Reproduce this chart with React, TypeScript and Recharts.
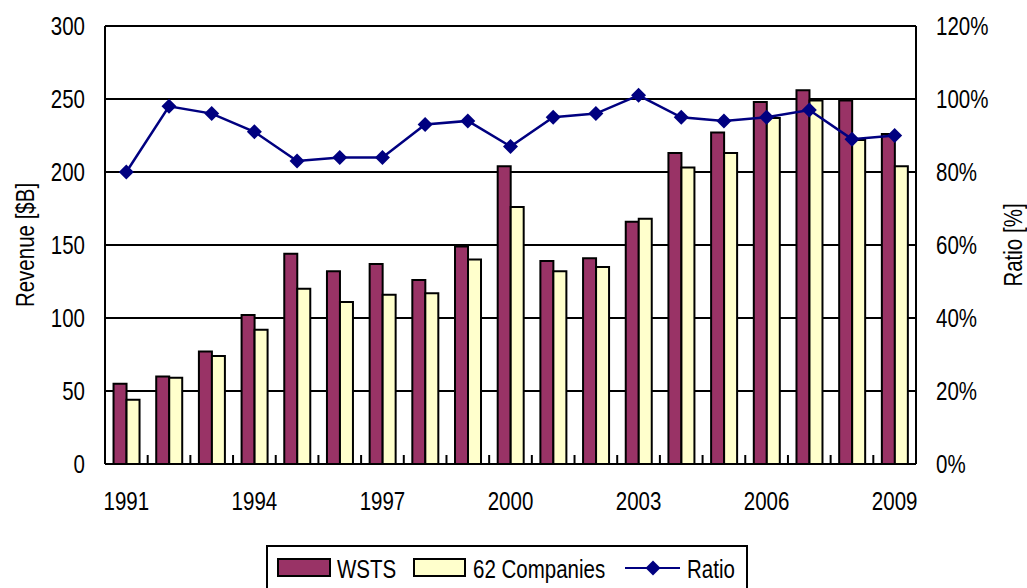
import { ComposedChart, Bar, Line, XAxis, YAxis, CartesianGrid, Legend } from 'recharts';

const years = [
  '1991', '1992', '1993', '1994', '1995', '1996', '1997', '1998', '1999', '2000',
  '2001', '2002', '2003', '2004', '2005', '2006', '2007', '2008', '2009',
];
const wsts = [55, 60, 77, 102, 144, 132, 137, 126, 149, 204, 139, 141, 166, 213, 227, 248, 256, 249, 226];
const companies62 = [44, 59, 74, 92, 120, 111, 116, 117, 140, 176, 132, 135, 168, 203, 213, 237, 249, 222, 204];
const ratio = [80, 98, 96, 91, 83, 84, 84, 93, 94, 87, 95, 96, 101, 95, 94, 95, 97, 89, 90];

const revenueTicks = [0, 50, 100, 150, 200, 250, 300];
const ratioTicks = [0, 20, 40, 60, 80, 100, 120];

const data = years.map((year, i) => ({
  year,
  wsts: wsts[i],
  companies: companies62[i],
  ratio: ratio[i],
}));

// no narrow font installed, so Liberation Sans gets squeezed horizontally
const FONT = '"Liberation Sans", Arial, sans-serif';
const SQUEEZE = 0.82;
const FS = 25;
const W = 1027;
const H = 588;
const LEFT_W = 105;
const RIGHT_W = 111;
const BAND = (W - LEFT_W - RIGHT_W) / years.length;

const WSTS_COLOR = '#993366';
const CO_COLOR = '#FFFFCC';
const RATIO_COLOR = '#000080';

function NarrowText({ x, y, anchor, rotate, children, dy }: any) {
  const t = `translate(${x} ${y})${rotate ? ` rotate(${rotate})` : ''} scale(${SQUEEZE} 1)`;
  return (
    <text transform={t} textAnchor={anchor} dy={dy} fontSize={FS} fontFamily={FONT} fill="#000">
      {children}
    </text>
  );
}

function YearTick(props: any) {
  const { x, y, index, payload } = props;
  return (
    <g>
      <line x1={x + BAND / 2} x2={x + BAND / 2} y1={y} y2={y - 9} stroke="#000" strokeWidth={2} />
      {index % 3 === 0 && (
        <NarrowText x={x} y={y + 46} anchor="middle">
          {payload.value}
        </NarrowText>
      )}
    </g>
  );
}

function ValueTick(props: any) {
  const { x, y, payload, textAnchor, suffix } = props;
  return (
    <NarrowText x={x} y={y} anchor={textAnchor} dy="0.36em">
      {`${payload.value}${suffix || ''}`}
    </NarrowText>
  );
}

function Diamond(props: any) {
  const { cx, cy } = props;
  if (cx == null || cy == null) return null;
  const r = 7.5;
  return (
    <polygon
      points={`${cx},${cy - r} ${cx + r},${cy} ${cx},${cy + r} ${cx - r},${cy}`}
      fill={RATIO_COLOR}
    />
  );
}

function AxisTitle(props: any) {
  const { viewBox, value, dx } = props;
  const x = viewBox.x + dx;
  const y = viewBox.y + viewBox.height / 2;
  return (
    <NarrowText x={x} y={y} rotate={-90} anchor="middle" dy="0.36em">
      {value}
    </NarrowText>
  );
}

function LegendBox() {
  return (
    <svg width={482} height={60} style={{ display: 'block' }}>
      <rect x={1} y={1} width={480} height={70} fill="#fff" stroke="#000" strokeWidth={2} />
      <rect x={12} y={14} width={52} height={17} fill={WSTS_COLOR} stroke="#000" strokeWidth={2} />
      <NarrowText x={71} y={33} anchor="start">WSTS</NarrowText>
      <rect x={148} y={14} width={51} height={17} fill={CO_COLOR} stroke="#000" strokeWidth={2} />
      <NarrowText x={207} y={33} anchor="start">62 Companies</NarrowText>
      <line x1={359} x2={414} y1={23} y2={23} stroke={RATIO_COLOR} strokeWidth={2} />
      <polygon points="387,15.5 394.5,23 387,30.5 379.5,23" fill={RATIO_COLOR} />
      <NarrowText x={421} y={33} anchor="start">Ratio</NarrowText>
    </svg>
  );
}

export default function App() {
  return (
    <div style={{ width: W, height: H, overflow: 'hidden', position: 'relative' }}>
      <style>{'body{margin:0;overflow:hidden}'}</style>
      <ComposedChart
        width={W}
        height={H}
        data={data}
        margin={{ top: 26, right: 0, bottom: 0, left: 0 }}
        barCategoryGap="20%"
        barGap={0}
      >
        <CartesianGrid yAxisId="left" vertical={false} stroke="#000" strokeWidth={2} />
        <XAxis
          dataKey="year"
          interval={0}
          height={124}
          tickLine={false}
          tickSize={0}
          tickMargin={0}
          axisLine={{ stroke: '#000', strokeWidth: 2 }}
          tick={<YearTick />}
        />
        <YAxis
          yAxisId="left"
          width={LEFT_W}
          domain={[0, 300]}
          ticks={revenueTicks}
          interval={0}
          tickLine={false}
          tickSize={0}
          tickMargin={20}
          axisLine={{ stroke: '#000', strokeWidth: 2 }}
          tick={<ValueTick />}
          label={<AxisTitle value="Revenue [$B]" dx={25} />}
        />
        <YAxis
          yAxisId="right"
          orientation="right"
          width={RIGHT_W}
          domain={[0, 120]}
          ticks={ratioTicks}
          interval={0}
          tickLine={false}
          tickSize={0}
          tickMargin={20}
          axisLine={{ stroke: '#000', strokeWidth: 2 }}
          tick={<ValueTick suffix="%" />}
          label={<AxisTitle value="Ratio [%]" dx={97} />}
        />
        <Bar yAxisId="left" dataKey="wsts" name="WSTS" fill={WSTS_COLOR} stroke="#000" strokeWidth={2} isAnimationActive={false} />
        <Bar yAxisId="left" dataKey="companies" name="62 Companies" fill={CO_COLOR} stroke="#000" strokeWidth={2} isAnimationActive={false} />
        <Line
          yAxisId="right"
          dataKey="ratio"
          name="Ratio"
          stroke={RATIO_COLOR}
          strokeWidth={2.5}
          dot={<Diamond />}
          activeDot={false}
          isAnimationActive={false}
        />
        <Legend
          layout="horizontal"
          verticalAlign="middle"
          align="center"
          content={<LegendBox />}
          wrapperStyle={{ left: 266, top: 545, width: 482, height: 60, right: 'auto', bottom: 'auto' }}
        />
      </ComposedChart>
    </div>
  );
}
